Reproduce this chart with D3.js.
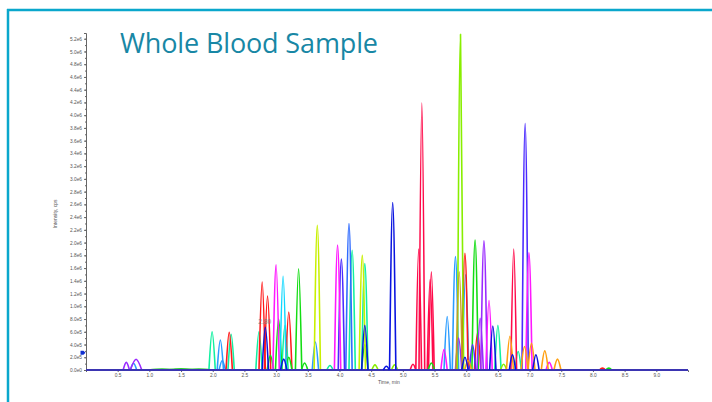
<!DOCTYPE html>
<html>
<head>
<meta charset="utf-8">
<title>Whole Blood Sample</title>
<style>
  body { margin: 0; background: #fff; }
  .axis text { font-family: "Liberation Sans", Arial, sans-serif; fill: #555; }
  .axis path, .axis line { stroke: #666; }
</style>
</head>
<body>
<script src="https://cdn.jsdelivr.net/npm/d3@7/dist/d3.min.js"></script>
<script>
// chromatogram peaks, [retention time (min), intensity (cps)]
var redPeaks      = [[2.26,5.9e5],[2.78,1.38e6],[2.865,1.16e6],[3.20,9.1e5],[5.98,1.83e6],[6.18,5.9e5],[8.15,0.3e5]];
var crimsonPeaks  = [[5.16,0.9e5],[5.25,1.9e6],[5.30,4.19e6],[5.43,1.42e6],[5.45,1.54e6],[6.75,1.9e6]];
var limePeaks     = [[4.56,0.8e5],[4.87,0.8e5],[5.91,5.27e6],[6.59,0.9e5]];
var greenPeaks    = [[2.91,2.3e5],[3.04,8.0e5],[3.20,2.0e5],[3.355,1.59e6],[3.45,1.1e5],[4.40,4.0e5],[5.45,1.1e5],[6.14,2.04e6],[8.25,0.3e5]];
var greenNoise    = [[1.2,1.4e4],[1.5,2.0e4],[1.78,1.5e4]];
var yellowPeaks   = [[3.65,2.27e6],[4.36,1.8e6]];
var tealPeaks     = [[1.99,6.0e5],[2.29,5.6e5],[2.73,6.0e5],[3.14,7.0e5],[3.85,0.7e5],[4.20,1.88e6],[4.40,1.67e6],[6.50,7.0e5],[6.82,2.9e5]];
var cyanPeaks     = [[3.11,1.47e6]];
var skyPeaks      = [[0.75,1.05e5],[2.12,4.7e5],[2.15,1.5e5],[3.62,4.4e5],[5.70,8.4e5],[5.83,1.78e6],[5.99,1.5e6]];
var royalPeaks    = [[4.15,2.30e6]];
var violetPeaks   = [[4.03,1.74e6],[6.10,4.0e5],[6.93,3.87e6]];
var purplePeaks   = [[0.636,1.2e5],[5.88,5.0e5],[6.22,8.1e5],[6.28,2.03e6]];
var purpleBroad   = [[0.79,1.68e5]];
var magentaPeaks  = [[3.00,1.65e6],[3.97,1.96e6],[5.65,3.2e5],[6.36,1.09e6],[6.99,1.84e6],[7.31,1.2e5]];
var orangePeaks   = [[6.03,1.5e5],[6.69,5.3e5],[6.92,3.7e5],[7.03,4.2e5],[7.24,3.0e5],[7.44,1.7e5]];
var olivePeaks    = [[5.89,1.54e6]];
var bluePeaks     = [[2.83,6.7e5],[3.12,1.7e5],[4.40,7.0e5],[4.74,0.6e5],[4.84,2.63e6],[5.98,2.0e5],[6.42,6.9e5],[6.73,2.4e5],[7.10,2.4e5]];

// trace order = drawing order (blue last, on top)
var traceNames  = ["green noise","teal","sky","red","crimson","lime","green","yellow","cyan","royal","violet","purple","purple broad","magenta","orange","olive","blue"];
var traceData   = [greenNoise,tealPeaks,skyPeaks,redPeaks,crimsonPeaks,limePeaks,greenPeaks,yellowPeaks,cyanPeaks,royalPeaks,violetPeaks,purplePeaks,purpleBroad,magentaPeaks,orangePeaks,olivePeaks,bluePeaks];
var traceColors = ["#30d030","#10f0a0","#2a9cff","#ff1a1a","#ff0a4a","#88ee00","#12dd12","#c8f000","#10d8ff","#2f6bff","#4a2aff","#9a2aff","#9a2aff","#ff18ff","#ffa010","#c0a020","#0a14e0"];
var halfWidths  = [0.22,0.05,0.05,0.05,0.045,0.05,0.05,0.05,0.05,0.05,0.05,0.05,0.09,0.05,0.055,0.05,0.05];

var timeRange = [0, 9.5];
var xTicks = [0.5,1.0,1.5,2.0,2.5,3.0,3.5,4.0,4.5,5.0,5.5,6.0,6.5,7.0,7.5,8.0,8.5,9.0];
var yTicks = d3.range(0, 27).map(function (i) { return i * 2e5; });
var markerLevel = 2.7e5;
var annotation = {time: 2.82, level: 6.9e5, text: "2.80"};

var width = 712, height = 402;
var margin = {top: 33, right: 24, bottom: 32, left: 86};

var svg = d3.select("body").append("svg")
  .attr("width", width)
  .attr("height", height);

// frame
svg.append("line").attr("x1", 7).attr("x2", width).attr("y1", 10).attr("y2", 10)
  .attr("stroke", "#0aa7cc").attr("stroke-width", 2.5);
svg.append("line").attr("x1", 8).attr("x2", 8).attr("y1", 9).attr("y2", height)
  .attr("stroke", "#0aa7cc").attr("stroke-width", 2.5);

var x = d3.scaleLinear().domain(timeRange).range([margin.left, width - margin.right]);
var y = d3.scaleLinear().domain([0, 5.29e6]).range([height - margin.bottom, margin.top]);

function fmt(v) {
  if (v === 0) return "0.0e0";
  if (v >= 1e6) return (v / 1e6).toFixed(1) + "e6";
  return (v / 1e5).toFixed(1) + "e5";
}

// y axis
var yAxis = svg.append("g").attr("class", "axis")
  .attr("transform", "translate(" + margin.left + ",0)")
  .call(d3.axisLeft(y).tickValues(yTicks).tickFormat(fmt).tickSize(2).tickPadding(2));
yAxis.selectAll("text").style("font-size", "4.8px");
yAxis.select(".domain").attr("stroke", "#777");
svg.append("g").attr("class", "axis")
  .attr("transform", "translate(" + margin.left + ",0)")
  .call(d3.axisLeft(y).tickValues(d3.range(0, 53).map(function (i) { return i * 1e5; })).tickFormat("").tickSize(1))
  .select(".domain").remove();

// x axis
var xAxis = svg.append("g").attr("class", "axis")
  .attr("transform", "translate(0," + y(0) + ")")
  .call(d3.axisBottom(x).tickValues(xTicks).tickFormat(d3.format(".1f")).tickSize(2).tickPadding(2));
xAxis.selectAll("text").style("font-size", "4.8px");

svg.append("text")
  .attr("x", x(4.78)).attr("y", 384)
  .attr("text-anchor", "middle")
  .style("font-family", "Liberation Sans, Arial, sans-serif")
  .style("font-size", "5px").style("fill", "#555")
  .text("Time, min");

svg.append("text")
  .attr("transform", "translate(57," + y(2.45e6) + ") rotate(-90)")
  .attr("text-anchor", "middle")
  .style("font-family", "Liberation Sans, Arial, sans-serif")
  .style("font-size", "5px").style("fill", "#555")
  .text("Intensity, cps");

// traces
var line = d3.line()
  .x(function (d) { return x(d[0]); })
  .y(function (d) { return y(d[1]); })
  .curve(d3.curveMonotoneX);

var plot = svg.append("g").attr("fill", "none").attr("stroke-width", 1.6).attr("stroke-linejoin", "round");

traceData.forEach(function (peaks, i) {
  var g = plot.append("g").attr("class", "trace").attr("id", traceNames[i].replace(" ", "_"))
    .attr("stroke", traceColors[i]);
  g.append("path").attr("d", line([[timeRange[0], 0], [timeRange[1], 0]]));
  var w = halfWidths[i];
  g.selectAll(".peak").data(peaks).enter().append("path")
    .attr("class", "peak")
    .attr("d", function (d) { return line([[d[0] - w, 0], [d[0], d[1]], [d[0] + w, 0]]); });
});

// level marker and peak label
svg.append("path")
  .attr("transform", "translate(" + (margin.left - 4) + "," + y(markerLevel) + ")")
  .attr("d", "M-1.5,-2 L1.5,-2 L3.5,0 L1.5,2 L-1.5,2 Z")
  .attr("fill", "#1030d0");

svg.append("text")
  .attr("x", x(annotation.time)).attr("y", y(annotation.level) - 2)
  .attr("text-anchor", "middle")
  .style("font-family", "Liberation Sans, Arial, sans-serif")
  .style("font-size", "6.5px").style("fill", "#777").style("opacity", 0.85)
  .text(annotation.text);

// title
svg.append("text")
  .attr("x", 120).attr("y", 53)
  .attr("textLength", 258)
  .style("font-family", "Open Sans, Noto Sans, sans-serif")
  .style("font-size", "27px").style("fill", "#1887a5")
  .text("Whole Blood Sample");
</script>
</body>
</html>
